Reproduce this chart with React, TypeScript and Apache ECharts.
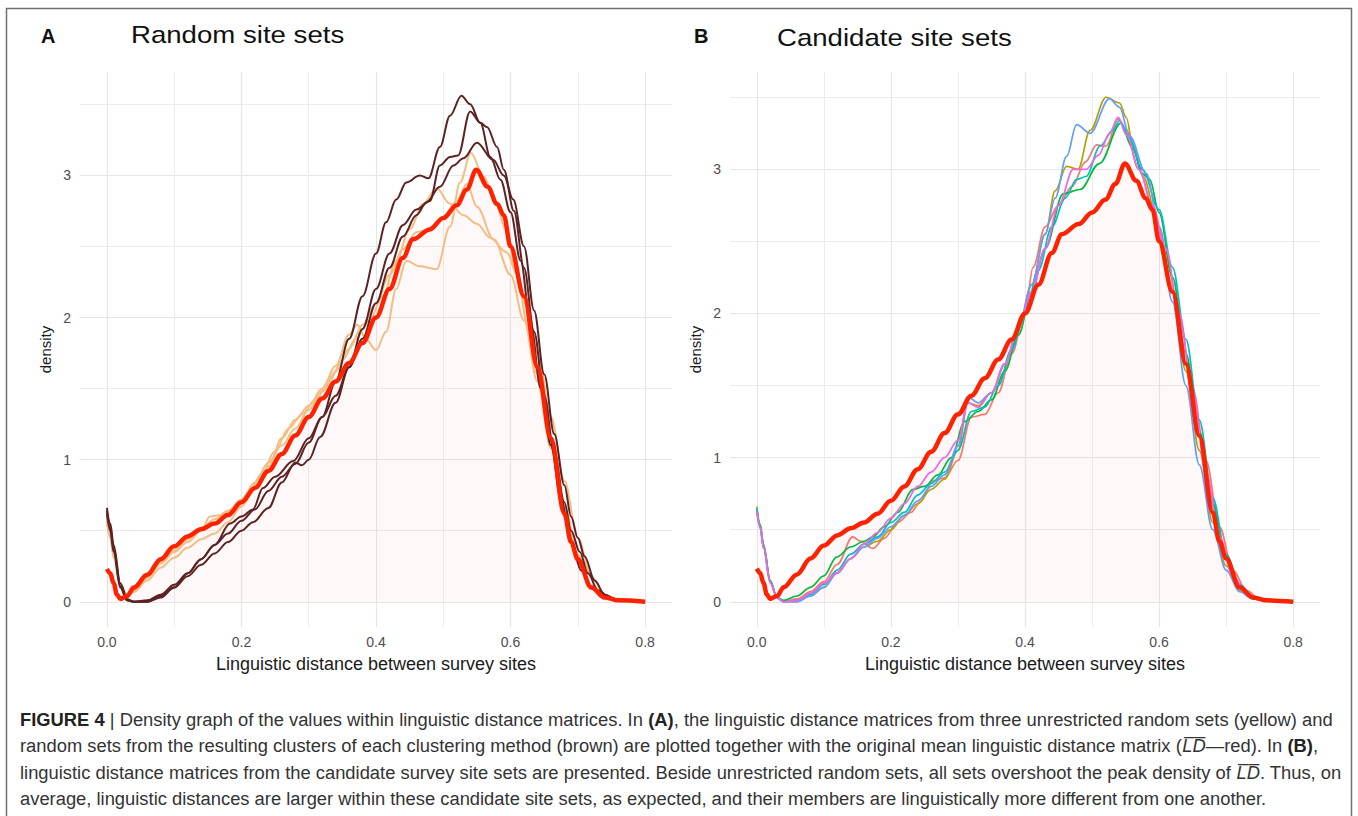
import React, { useEffect, useRef } from "react";
import * as echarts from "echarts";

// ---------- data (x = linguistic distance, y = density) ----------
const LD_MEAN: number[][] = [
  [0, 0.23], [0.005, 0.2], [0.01, 0.13], [0.015, 0.05], [0.02, 0.02], [0.03, 0.04], [0.04, 0.1], [0.06, 0.19], [0.08, 0.3],
  [0.1, 0.39], [0.12, 0.46], [0.14, 0.51], [0.16, 0.55], [0.18, 0.61], [0.2, 0.7], [0.22, 0.8], [0.24, 0.92], [0.26, 1.04],
  [0.28, 1.17], [0.3, 1.3], [0.32, 1.43], [0.34, 1.55], [0.36, 1.68], [0.38, 1.82], [0.4, 2.0], [0.42, 2.2], [0.44, 2.42],
  [0.455, 2.55], [0.48, 2.62], [0.5, 2.7], [0.52, 2.79], [0.535, 2.9], [0.549, 3.04], [0.566, 2.92], [0.58, 2.8], [0.59, 2.72],
  [0.6, 2.5], [0.62, 2.15], [0.64, 1.65], [0.66, 1.15], [0.68, 0.62], [0.69, 0.42], [0.7, 0.3], [0.72, 0.1], [0.74, 0.03],
  [0.76, 0.01], [0.8, 0],
];

const BROWN_1: number[][] = [
  [0, 0.66], [0.005, 0.55], [0.01, 0.4], [0.02, 0.13], [0.03, 0.02], [0.04, 0], [0.06, 0.01], [0.08, 0.05], [0.1, 0.12],
  [0.12, 0.2], [0.14, 0.3], [0.16, 0.4], [0.18, 0.48], [0.2, 0.57], [0.22, 0.65], [0.24, 0.78], [0.26, 0.88], [0.28, 0.97],
  [0.3, 1.12], [0.32, 1.3], [0.34, 1.55], [0.36, 1.85], [0.38, 2.15], [0.4, 2.45], [0.415, 2.67], [0.43, 2.83], [0.445, 2.95],
  [0.465, 3.0], [0.478, 2.98], [0.495, 3.2], [0.51, 3.42], [0.527, 3.56], [0.54, 3.5], [0.555, 3.37], [0.57, 3.13], [0.585, 2.97],
  [0.6, 2.74], [0.615, 2.4], [0.63, 1.95], [0.645, 1.5], [0.66, 1.1], [0.675, 0.72], [0.69, 0.42], [0.705, 0.22], [0.72, 0.1],
  [0.74, 0.03], [0.76, 0.01], [0.8, 0],
];
const BROWN_2: number[][] = [
  [0, 0.64], [0.005, 0.52], [0.01, 0.37], [0.02, 0.11], [0.03, 0.01], [0.04, 0], [0.06, 0], [0.08, 0.03], [0.1, 0.1],
  [0.12, 0.18], [0.14, 0.26], [0.16, 0.34], [0.18, 0.42], [0.2, 0.5], [0.217, 0.56], [0.24, 0.66], [0.26, 0.84], [0.28, 0.98],
  [0.29, 0.96], [0.3, 1.0], [0.317, 1.16], [0.34, 1.4], [0.36, 1.65], [0.38, 1.92], [0.4, 2.2], [0.42, 2.45], [0.44, 2.65],
  [0.46, 2.76], [0.48, 2.82], [0.495, 3.07], [0.51, 3.13], [0.522, 3.14], [0.54, 3.45], [0.555, 3.37], [0.565, 3.34], [0.58, 3.2],
  [0.59, 3.04], [0.605, 2.75], [0.62, 2.35], [0.635, 1.9], [0.65, 1.45], [0.665, 1.05], [0.68, 0.7], [0.69, 0.5], [0.703, 0.35],
  [0.715, 0.2], [0.73, 0.08], [0.75, 0.02], [0.77, 0.005], [0.8, 0],
];
const BROWN_3: number[][] = [
  [0, 0.62], [0.005, 0.5], [0.01, 0.35], [0.02, 0.1], [0.03, 0.01], [0.04, 0], [0.06, 0], [0.08, 0.04], [0.1, 0.1],
  [0.12, 0.2], [0.14, 0.3], [0.16, 0.4], [0.183, 0.55], [0.2, 0.6], [0.217, 0.65], [0.232, 0.8], [0.25, 0.88], [0.277, 0.99],
  [0.3, 1.15], [0.32, 1.3], [0.34, 1.45], [0.36, 1.65], [0.38, 1.85], [0.4, 2.1], [0.42, 2.35], [0.44, 2.57], [0.46, 2.72],
  [0.475, 2.81], [0.495, 2.92], [0.515, 3.07], [0.53, 3.12], [0.55, 3.23], [0.574, 3.11], [0.59, 3.0], [0.604, 2.83], [0.62, 2.5],
  [0.635, 2.05], [0.65, 1.6], [0.665, 1.18], [0.68, 0.82], [0.69, 0.6], [0.7, 0.45], [0.71, 0.32], [0.725, 0.15], [0.74, 0.05],
  [0.76, 0.01], [0.8, 0],
];

const YELLOW_1: number[][] = [
  [0, 0.58], [0.005, 0.47], [0.01, 0.33], [0.02, 0.12], [0.03, 0.05], [0.04, 0.07], [0.06, 0.17], [0.08, 0.27], [0.1, 0.35],
  [0.12, 0.42], [0.14, 0.5], [0.153, 0.6], [0.17, 0.61], [0.19, 0.66], [0.21, 0.76], [0.23, 0.9], [0.25, 1.06], [0.27, 1.22],
  [0.29, 1.32], [0.31, 1.42], [0.33, 1.55], [0.35, 1.7], [0.37, 1.85], [0.39, 1.98], [0.41, 2.15], [0.43, 2.4], [0.45, 2.62],
  [0.47, 2.8], [0.49, 2.91], [0.51, 2.8], [0.53, 2.72], [0.55, 2.66], [0.57, 2.56], [0.594, 2.46], [0.61, 2.3], [0.625, 2.08],
  [0.64, 1.75], [0.66, 1.3], [0.68, 0.85], [0.7, 0.45], [0.72, 0.18], [0.74, 0.05], [0.76, 0.01], [0.8, 0],
];
const YELLOW_2: number[][] = [
  [0, 0.55], [0.005, 0.45], [0.01, 0.31], [0.02, 0.1], [0.03, 0.04], [0.04, 0.07], [0.06, 0.15], [0.08, 0.24], [0.1, 0.31],
  [0.12, 0.38], [0.14, 0.44], [0.16, 0.48], [0.18, 0.56], [0.2, 0.67], [0.22, 0.8], [0.24, 0.95], [0.26, 1.15], [0.28, 1.28],
  [0.3, 1.38], [0.32, 1.5], [0.34, 1.66], [0.36, 1.88], [0.372, 1.95], [0.385, 1.85], [0.4, 1.77], [0.415, 1.9], [0.43, 2.2],
  [0.445, 2.4], [0.465, 2.36], [0.49, 2.34], [0.51, 2.64], [0.525, 2.95], [0.541, 3.16], [0.56, 2.99], [0.578, 2.8], [0.593, 2.62],
  [0.61, 2.3], [0.625, 1.95], [0.64, 1.6], [0.66, 1.12], [0.68, 0.68], [0.7, 0.33], [0.72, 0.12], [0.74, 0.04], [0.76, 0.01],
  [0.8, 0],
];
const YELLOW_3: number[][] = [
  [0, 0.6], [0.005, 0.48], [0.01, 0.34], [0.02, 0.12], [0.03, 0.05], [0.04, 0.08], [0.06, 0.18], [0.08, 0.28], [0.1, 0.36],
  [0.12, 0.44], [0.14, 0.52], [0.16, 0.58], [0.18, 0.64], [0.2, 0.72], [0.22, 0.84], [0.24, 0.98], [0.26, 1.1], [0.28, 1.22],
  [0.3, 1.35], [0.32, 1.48], [0.34, 1.62], [0.36, 1.78], [0.38, 1.95], [0.4, 2.1], [0.42, 2.3], [0.44, 2.48], [0.46, 2.6],
  [0.48, 2.62], [0.5, 2.7], [0.52, 2.82], [0.535, 2.94], [0.55, 2.78], [0.575, 2.55], [0.6, 2.3], [0.62, 1.98], [0.64, 1.55],
  [0.66, 1.08], [0.68, 0.62], [0.7, 0.28], [0.72, 0.1], [0.74, 0.03], [0.76, 0.01], [0.8, 0],
];

const CAND_SALMON: number[][] = [
  [0, 0.63], [0.005, 0.52], [0.01, 0.38], [0.02, 0.14], [0.03, 0.03], [0.04, 0], [0.06, 0.02], [0.08, 0.07], [0.1, 0.14],
  [0.12, 0.26], [0.143, 0.45], [0.155, 0.42], [0.173, 0.37], [0.19, 0.44], [0.21, 0.55], [0.23, 0.62], [0.243, 0.69],
  [0.263, 0.84], [0.28, 0.86], [0.3, 0.98], [0.32, 1.28], [0.34, 1.3], [0.36, 1.45], [0.38, 1.72], [0.4, 2.0], [0.412, 2.32],
  [0.43, 2.6], [0.45, 2.75], [0.47, 2.88], [0.49, 3.05], [0.507, 3.17], [0.521, 3.16], [0.539, 3.35], [0.55, 3.28], [0.57, 3.0],
  [0.59, 2.75], [0.61, 2.42], [0.63, 1.98], [0.65, 1.48], [0.67, 0.98], [0.69, 0.52], [0.71, 0.22], [0.73, 0.08], [0.75, 0.02],
  [0.77, 0.005], [0.8, 0],
];
const CAND_OLIVE: number[][] = [
  [0, 0.66], [0.005, 0.54], [0.01, 0.4], [0.02, 0.15], [0.03, 0.03], [0.04, 0], [0.06, 0], [0.08, 0.04], [0.1, 0.1],
  [0.12, 0.2], [0.14, 0.3], [0.16, 0.38], [0.18, 0.42], [0.2, 0.5], [0.22, 0.6], [0.24, 0.68], [0.26, 0.78], [0.28, 0.85],
  [0.3, 1.05], [0.315, 1.38], [0.33, 1.36], [0.35, 1.45], [0.37, 1.65], [0.39, 1.9], [0.41, 2.2], [0.43, 2.55], [0.445, 2.85],
  [0.462, 3.02], [0.479, 3.0], [0.497, 3.27], [0.521, 3.5], [0.541, 3.46], [0.551, 3.36], [0.561, 3.16], [0.576, 2.95],
  [0.6, 2.6], [0.62, 2.15], [0.64, 1.6], [0.66, 1.05], [0.68, 0.55], [0.7, 0.25], [0.72, 0.08], [0.74, 0.02], [0.76, 0.005],
  [0.8, 0],
];
const CAND_GREEN: number[][] = [
  [0, 0.64], [0.005, 0.52], [0.01, 0.38], [0.02, 0.14], [0.03, 0.03], [0.04, 0.01], [0.06, 0.04], [0.08, 0.1], [0.1, 0.18],
  [0.119, 0.31], [0.14, 0.38], [0.16, 0.42], [0.173, 0.45], [0.19, 0.52], [0.21, 0.62], [0.233, 0.78], [0.25, 0.8],
  [0.27, 0.88], [0.29, 1.0], [0.31, 1.25], [0.33, 1.32], [0.35, 1.4], [0.37, 1.6], [0.39, 1.85], [0.41, 2.15], [0.43, 2.45],
  [0.457, 2.83], [0.482, 2.86], [0.511, 3.04], [0.543, 3.32], [0.56, 3.15], [0.575, 2.97], [0.586, 2.93], [0.6, 2.7],
  [0.62, 2.25], [0.64, 1.72], [0.66, 1.18], [0.68, 0.68], [0.7, 0.32], [0.72, 0.11], [0.74, 0.03], [0.76, 0.01], [0.8, 0],
];
const CAND_CYAN: number[][] = [
  [0, 0.65], [0.005, 0.53], [0.01, 0.39], [0.02, 0.14], [0.03, 0.03], [0.04, 0], [0.06, 0.01], [0.08, 0.05], [0.1, 0.12],
  [0.12, 0.22], [0.14, 0.33], [0.16, 0.4], [0.18, 0.45], [0.2, 0.55], [0.22, 0.62], [0.24, 0.74], [0.26, 0.82], [0.28, 0.9],
  [0.3, 1.05], [0.32, 1.32], [0.34, 1.35], [0.36, 1.5], [0.38, 1.75], [0.4, 2.0], [0.42, 2.3], [0.44, 2.6], [0.46, 2.8],
  [0.477, 2.93], [0.491, 2.95], [0.512, 3.16], [0.531, 3.27], [0.541, 3.34], [0.555, 3.22], [0.575, 3.0], [0.6, 2.72],
  [0.62, 2.32], [0.64, 1.82], [0.66, 1.26], [0.68, 0.72], [0.7, 0.33], [0.72, 0.12], [0.74, 0.04], [0.76, 0.01], [0.8, 0],
];
const CAND_BLUE: number[][] = [
  [0, 0.64], [0.005, 0.52], [0.01, 0.38], [0.02, 0.14], [0.03, 0.03], [0.04, 0], [0.06, 0], [0.08, 0.04], [0.1, 0.1],
  [0.12, 0.2], [0.14, 0.3], [0.16, 0.38], [0.18, 0.44], [0.2, 0.52], [0.22, 0.6], [0.24, 0.7], [0.26, 0.8], [0.28, 0.88],
  [0.3, 1.08], [0.315, 1.42], [0.33, 1.38], [0.35, 1.45], [0.37, 1.65], [0.39, 1.9], [0.41, 2.2], [0.43, 2.55], [0.445, 2.8],
  [0.462, 3.09], [0.477, 3.31], [0.497, 3.25], [0.526, 3.49], [0.541, 3.43], [0.556, 3.23], [0.581, 2.97], [0.6, 2.6],
  [0.62, 2.08], [0.64, 1.5], [0.66, 0.95], [0.68, 0.5], [0.7, 0.22], [0.72, 0.07], [0.74, 0.02], [0.76, 0.005], [0.8, 0],
];
const CAND_MAGENTA: number[][] = [
  [0, 0.62], [0.005, 0.51], [0.01, 0.37], [0.02, 0.13], [0.03, 0.03], [0.04, 0], [0.06, 0.01], [0.08, 0.06], [0.1, 0.13],
  [0.12, 0.2], [0.14, 0.3], [0.16, 0.4], [0.18, 0.48], [0.2, 0.58], [0.22, 0.68], [0.24, 0.8], [0.26, 0.9], [0.28, 1.0],
  [0.3, 1.12], [0.315, 1.38], [0.33, 1.35], [0.35, 1.45], [0.37, 1.65], [0.39, 1.9], [0.41, 2.15], [0.43, 2.45], [0.45, 2.75],
  [0.472, 3.0], [0.491, 3.0], [0.51, 3.1], [0.526, 3.25], [0.539, 3.36], [0.551, 3.24], [0.57, 3.0], [0.59, 2.75], [0.61, 2.45],
  [0.63, 2.0], [0.65, 1.45], [0.67, 0.9], [0.69, 0.45], [0.71, 0.18], [0.73, 0.06], [0.75, 0.02], [0.8, 0],
];

const X_MAJOR_TICKS = [0, 0.2, 0.4, 0.6, 0.8];
const X_MINOR_TICKS = [0.1, 0.3, 0.5, 0.7];
const Y_MAJOR_TICKS = [0, 1, 2, 3];
const Y_MINOR_TICKS = [0.5, 1.5, 2.5, 3.5];

const PANEL_TITLES = ["Random site sets", "Candidate site sets"];
const PANEL_LETTERS = ["A", "B"];
const X_TITLE = "Linguistic distance between survey sites";
const Y_TITLE = "density";

const OL = "L\u0305D\u0305";
const CAPTION_LINES = [
  "{b|FIGURE 4} | Density graph of the values within linguistic distance matrices. In {b|(A)}, the linguistic distance matrices from three unrestricted random sets (yellow) and",
  "random sets from the resulting clusters of each clustering method (brown) are plotted together with the original mean linguistic distance matrix ({i|" + OL + "}\u2014red). In {b|(B)},",
  "linguistic distance matrices from the candidate survey site sets are presented. Beside unrestricted random sets, all sets overshoot the peak density of {i|" + OL + "}. Thus, on",
  "average, linguistic distances are larger within these candidate site sets, as expected, and their members are linguistically more different from one another.",
];

// ---------- styling ----------
const RED = "#ff2200";
const BROWN = "#5c2224";
const YELLOW = "#f3bd84";
const GRID_MAJOR = "#e6e6e6";
const GRID_MINOR = "#ececec";
const FONT = "'Liberation Sans', Arial, sans-serif";
const CAP_FONT = "'Liberation Sans', Arial, sans-serif";

function xAxes(gridIndex: number) {
  return [
    {
      type: "value", gridIndex, min: -0.04, max: 0.84,
      axisLine: { show: false },
      axisTick: { show: false, customValues: X_MAJOR_TICKS },
      axisLabel: {
        customValues: X_MAJOR_TICKS, color: "#4d4d4d", fontSize: 14, fontFamily: FONT, margin: 8,
        formatter: (v: number) => v.toFixed(1),
      },
      splitLine: { show: true, lineStyle: { color: GRID_MAJOR, width: 1.2 } },
      name: X_TITLE, nameLocation: "middle", nameGap: 28,
      nameTextStyle: { color: "#1a1a1a", fontSize: 18, fontFamily: FONT },
    },
    {
      type: "value", gridIndex, min: -0.04, max: 0.84, position: "bottom",
      axisLine: { show: false },
      axisTick: { show: false, customValues: X_MINOR_TICKS },
      axisLabel: { show: false, customValues: X_MINOR_TICKS },
      splitLine: { show: true, lineStyle: { color: GRID_MINOR, width: 1 } },
    },
  ];
}
function yAxes(gridIndex: number, min: number, max: number) {
  return [
    {
      type: "value", gridIndex, min, max,
      axisLine: { show: false },
      axisTick: { show: false, customValues: Y_MAJOR_TICKS },
      axisLabel: { customValues: Y_MAJOR_TICKS, color: "#4d4d4d", fontSize: 14, fontFamily: FONT, margin: 9 },
      splitLine: { show: true, lineStyle: { color: GRID_MAJOR, width: 1.2 } },
      name: Y_TITLE, nameLocation: "middle", nameGap: 27, nameRotate: 90,
      nameTextStyle: { color: "#1a1a1a", fontSize: 15, fontFamily: FONT },
    },
    {
      type: "value", gridIndex, min, max, position: "left",
      axisLine: { show: false },
      axisTick: { show: false, customValues: Y_MINOR_TICKS },
      axisLabel: { show: false, customValues: Y_MINOR_TICKS },
      splitLine: { show: true, lineStyle: { color: GRID_MINOR, width: 1 } },
    },
  ];
}

function line(name: string, data: number[][], color: string, width: number, axis: number, z = 2) {
  return {
    type: "line", name, data, xAxisIndex: axis, yAxisIndex: axis,
    showSymbol: false, symbol: "none", smooth: 0.35, smoothMonotone: "x",
    lineStyle: { color, width }, z, silent: true, clip: true,
  };
}
function fill(data: number[][], axis: number) {
  return {
    type: "line", data, xAxisIndex: axis, yAxisIndex: axis,
    showSymbol: false, symbol: "none", smooth: 0.35, smoothMonotone: "x",
    lineStyle: { width: 0 }, areaStyle: { color: "rgba(235, 60, 60, 0.05)" }, z: 1, silent: true,
  };
}

export default function App() {
  const ref = useRef<HTMLDivElement>(null);
  useEffect(() => {
    if (!ref.current) return;
    const chart = echarts.init(ref.current, undefined, { renderer: "svg" });
    const titleStyle = { fill: "#111", fontFamily: FONT, textVerticalAlign: "middle" };
    const option: any = {
      animation: false,
      backgroundColor: "#ffffff",
      grid: [
        { left: 80, top: 72, width: 592, height: 555 },
        { left: 730, top: 72, width: 590, height: 555 },
      ],
      xAxis: [...xAxes(0), ...xAxes(1)],
      yAxis: [...yAxes(0, -0.1775, 3.7275), ...yAxes(1, -0.175, 3.675)],
      series: [
        fill(LD_MEAN, 0),
        line("Random 1", YELLOW_1, YELLOW, 2, 0),
        line("Random 2", YELLOW_2, YELLOW, 2, 0),
        line("Random 3", YELLOW_3, YELLOW, 2, 0),
        line("Cluster 1", BROWN_1, BROWN, 2, 0),
        line("Cluster 2", BROWN_2, BROWN, 2, 0),
        line("Cluster 3", BROWN_3, BROWN, 2, 0),
        line("LD mean", LD_MEAN, RED, 4.5, 0, 5),
        fill(LD_MEAN, 2),
        line("Set 1", CAND_SALMON, "#f8766d", 1.7, 2),
        line("Set 2", CAND_OLIVE, "#b79f00", 1.7, 2),
        line("Set 3", CAND_GREEN, "#00ba38", 1.7, 2),
        line("Set 4", CAND_CYAN, "#00bfc4", 1.7, 2),
        line("Set 5", CAND_BLUE, "#619cff", 1.7, 2),
        line("Set 6", CAND_MAGENTA, "#f564e3", 1.7, 2),
        line("LD mean ", LD_MEAN, RED, 4.5, 2, 5),
      ],
      graphic: [
        {
          type: "rect", silent: true, z: -10,
          shape: { x: 6.5, y: 8.5, width: 1345, height: 820 },
          style: { fill: "none", stroke: "#707070", lineWidth: 1.5 },
        },
        { type: "text", x: 41, y: 36, style: { ...titleStyle, text: PANEL_LETTERS[0], fontSize: 20, fontWeight: "bold" } },
        { type: "text", x: 131, y: 35, scaleX: 1.15, style: { ...titleStyle, text: PANEL_TITLES[0], fontSize: 24 } },
        { type: "text", x: 694, y: 36, style: { ...titleStyle, text: PANEL_LETTERS[1], fontSize: 20, fontWeight: "bold" } },
        { type: "text", x: 777, y: 38, scaleX: 1.15, style: { ...titleStyle, text: PANEL_TITLES[1], fontSize: 24 } },
        ...CAPTION_LINES.map((t, i) => ({
          type: "text", x: 20, y: 720 + i * 26.3, scaleX: 1.02,
          style: {
            text: t, fill: "#333", fontFamily: CAP_FONT, fontSize: 18, textVerticalAlign: "middle",
            rich: {
              b: { fontWeight: "bold", fill: "#222", fontFamily: CAP_FONT, fontSize: 18 },
              i: { fontStyle: "italic", fill: "#333", fontFamily: CAP_FONT, fontSize: 18 },
            },
          },
        })),
      ],
    };
    chart.setOption(option);
    return () => chart.dispose();
  }, []);
  return (
    <div
      ref={ref}
      style={{ position: "fixed", left: 0, top: 0, width: 1358, height: 816, background: "#fff" }}
    />
  );
}
